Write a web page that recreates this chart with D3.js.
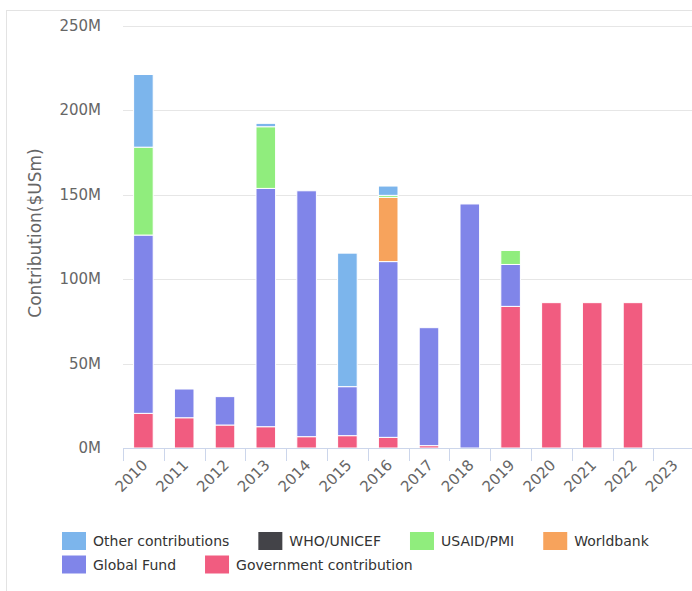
<!DOCTYPE html>
<html>
<head>
<meta charset="utf-8">
<script src="https://cdn.jsdelivr.net/npm/d3@7"></script>
<style>
  html, body { margin: 0; padding: 0; background: #fff; }
  svg { display: block; font-family: "DejaVu Sans", sans-serif; }
</style>
</head>
<body>
<svg width="692" height="591"></svg>
<script>
// values in millions of US$
const years = ["2010", "2011", "2012", "2013", "2014", "2015", "2016", "2017", "2018", "2019", "2020", "2021", "2022", "2023"];
const government = [20.5, 17.9, 13.6, 12.6, 6.7, 7.3, 6.3, 1.4, 0, 83.8, 86, 86, 86, 0];
const globalFund = [105.5, 17, 16.8, 141, 145.5, 29, 104, 69.8, 144.4, 24.8, 0, 0, 0, 0];
const worldbank = [0, 0, 0, 0, 0, 0, 38, 0, 0, 0, 0, 0, 0, 0];
const usaid = [52, 0, 0, 36.5, 0, 0, 1.2, 0, 0, 8.3, 0, 0, 0, 0];
const whoUnicef = [0, 0, 0, 0, 0, 0, 0, 0, 0, 0, 0, 0, 0, 0];
const other = [43, 0, 0, 2, 0, 79, 5.5, 0, 0, 0, 0, 0, 0, 0];
const yTicks = [0, 50, 100, 150, 200, 250];

// stacking order, bottom first
const seriesKeys = ["gov", "gf", "wb", "usaid", "who", "other"];
const seriesNames = {
  other: "Other contributions",
  who: "WHO/UNICEF",
  usaid: "USAID/PMI",
  wb: "Worldbank",
  gf: "Global Fund",
  gov: "Government contribution"
};
const legendOrder = ["other", "who", "usaid", "wb", "gf", "gov"];
const colour = d3.scaleOrdinal()
  .domain(["other", "who", "usaid", "wb", "gf", "gov"])
  .range(["#7cb5ec", "#434348", "#90ed7d", "#f7a35c", "#8085e9", "#f15c80"]);

const table = years.map((y, i) => ({
  year: y,
  gov: government[i],
  gf: globalFund[i],
  wb: worldbank[i],
  usaid: usaid[i],
  who: whoUnicef[i],
  other: other[i]
}));

const svg = d3.select("svg");

// chart box border
svg.append("rect")
  .attr("x", 6.5).attr("y", 10.5)
  .attr("width", 720).attr("height", 620)
  .attr("fill", "#fff").attr("stroke", "#e3e3e3");

const x = d3.scaleBand()
  .domain(years)
  .range([123, 123 + 14 * 40.8]);
const y = d3.scaleLinear().domain([0, 250]).range([448, 25.5]);

// grid lines
svg.append("g")
  .selectAll("line")
  .data(yTicks.slice(1))
  .join("line")
  .attr("x1", 123).attr("x2", 692)
  .attr("y1", (d) => Math.round(y(d)) + 0.5)
  .attr("y2", (d) => Math.round(y(d)) + 0.5)
  .attr("stroke", "#e6e6e6");

// y labels
svg.append("g")
  .selectAll("text")
  .data(yTicks)
  .join("text")
  .attr("x", 101)
  .attr("y", (d) => y(d) + 5)
  .attr("text-anchor", "end")
  .attr("font-size", 15)
  .attr("fill", "#666")
  .text((d) => d + "M");

svg.append("text")
  .attr("transform", "translate(41,233) rotate(-90)")
  .attr("text-anchor", "middle")
  .attr("font-size", 17)
  .attr("fill", "#666")
  .text("Contribution($USm)");

// bars
const stacked = d3.stack().keys(seriesKeys)(table);
const barW = x.bandwidth() * 0.48;

svg.append("g")
  .selectAll("g")
  .data(stacked)
  .join("g")
  .attr("fill", (s) => colour(s.key))
  .selectAll("rect")
  .data((s) => s.filter((d) => d[1] - d[0] > 0))
  .join("rect")
  .attr("x", (d) => x(d.data.year) + (x.bandwidth() - barW) / 2)
  .attr("y", (d) => y(d[1]))
  .attr("width", barW)
  .attr("height", (d) => y(d[0]) - y(d[1]))
  .attr("stroke", "#fff")
  .attr("stroke-width", 1);

// x axis
const xAxis = svg.append("g");
xAxis.append("line")
  .attr("x1", 123).attr("x2", 692)
  .attr("y1", 448.5).attr("y2", 448.5)
  .attr("stroke", "#ccd6eb");
xAxis.selectAll(".tick")
  .data(years)
  .join("line")
  .attr("class", "tick")
  .attr("x1", (d) => Math.round(x(d)) + 0.5)
  .attr("x2", (d) => Math.round(x(d)) + 0.5)
  .attr("y1", 448).attr("y2", 461)
  .attr("stroke", "#ccd6eb");
xAxis.selectAll("text")
  .data(years)
  .join("text")
  .attr("transform", (d) => `translate(${x(d) + x.bandwidth() / 2 + 5},${466}) rotate(-45)`)
  .attr("text-anchor", "end")
  .attr("font-size", 15)
  .attr("fill", "#666")
  .text((d) => d);

// legend, flowing left to right
const legend = svg.append("g");
let lx = 62, ly = 541;
legendOrder.forEach((k) => {
  const item = legend.append("g");
  item.append("rect")
    .attr("width", 24).attr("height", 18)
    .attr("y", -9)
    .attr("fill", colour(k));
  const t = item.append("text")
    .attr("x", 31).attr("y", 5)
    .attr("font-size", 14)
    .attr("fill", "#333")
    .text(seriesNames[k]);
  const w = 31 + t.node().getComputedTextLength();
  if (lx + w > 672) {
    lx = 62;
    ly += 23.5;
  }
  item.attr("transform", `translate(${lx},${ly})`);
  lx += w + 29;
});
</script>
</body>
</html>
